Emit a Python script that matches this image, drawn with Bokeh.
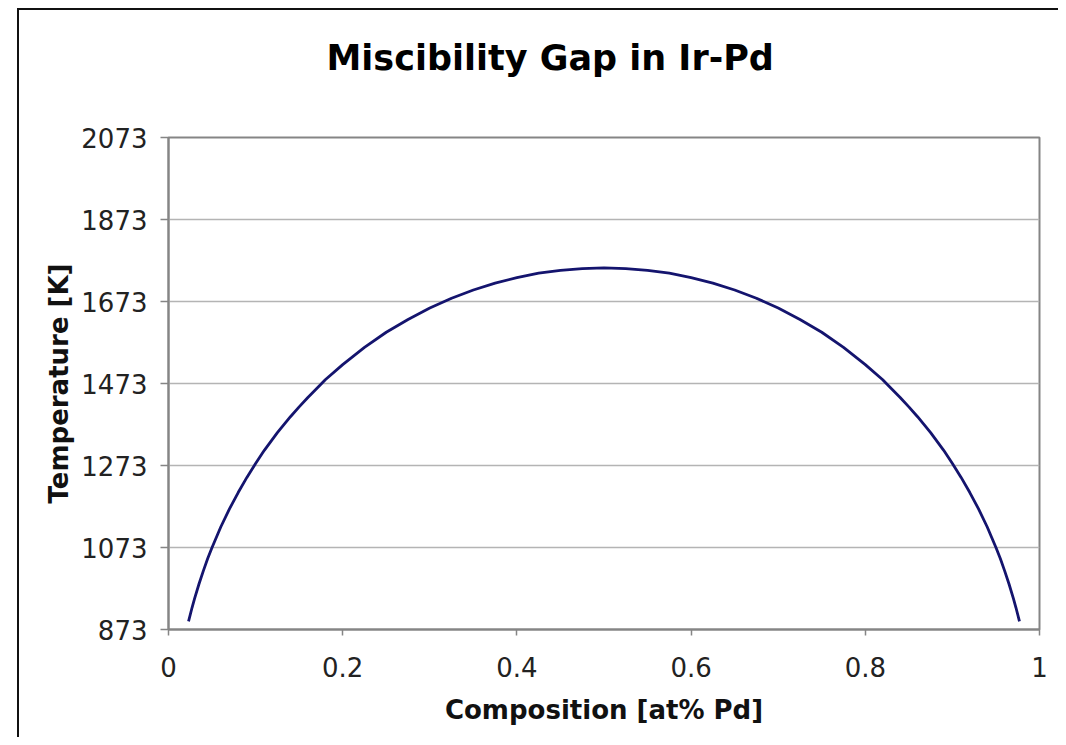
from bokeh.plotting import figure
from bokeh.models import FixedTicker, NumeralTickFormatter, Range1d, Title
from bokeh.embed import file_html
from bokeh.resources import INLINE

# Data (composition fraction Pd, temperature K)
composition = [0.023, 0.027, 0.03, 0.035, 0.04, 0.045, 0.05, 0.055, 0.06, 0.07,
               0.08, 0.09, 0.10, 0.11, 0.125, 0.14, 0.15, 0.16, 0.175, 0.18,
               0.20, 0.225, 0.25, 0.275, 0.30, 0.325, 0.35, 0.375, 0.40, 0.425,
               0.45, 0.475, 0.50,
               0.525, 0.55, 0.575, 0.60, 0.625, 0.65, 0.675, 0.70, 0.725,
               0.75, 0.775, 0.80, 0.82, 0.825, 0.84, 0.85, 0.86, 0.875, 0.89,
               0.90, 0.91, 0.92, 0.93, 0.94, 0.945, 0.95, 0.955, 0.96, 0.965,
               0.97, 0.973, 0.977]
temperature = [893, 926, 949, 984, 1016, 1046, 1073, 1098, 1123, 1167,
               1207, 1244, 1278, 1310, 1353, 1392, 1416, 1439, 1471, 1482,
               1519, 1561, 1598, 1629, 1657, 1681, 1701, 1718, 1731, 1742,
               1749, 1753, 1755,
               1753, 1749, 1742, 1731, 1718, 1701, 1681, 1657, 1629,
               1598, 1561, 1519, 1482, 1471, 1439, 1416, 1392, 1353, 1310,
               1278, 1244, 1207, 1167, 1123, 1098, 1073, 1046, 1016, 984,
               949, 926, 893]

x_ticks = [0, 0.2, 0.4, 0.6, 0.8, 1]
y_ticks = [873, 1073, 1273, 1473, 1673, 1873, 2073]
title_text = "Miscibility Gap in Ir-Pd"

FONT = "DejaVu Sans"

p = figure(
    output_backend="svg", toolbar_location=None,
    frame_width=871, frame_height=492,
    min_border_left=149, min_border_right=19,
    min_border_top=127, min_border_bottom=108,
    x_range=Range1d(0, 1), y_range=Range1d(873, 2073),
)
p.styles = {"margin-left": "17px", "margin-top": "8px",
            "border-left": "2px solid #111111",
            "border-top": "2px solid #111111"}

# empty spacer between frame and title, then the title itself
p.add_layout(Title(text=" ", text_font_size="30px", standoff=20), "above")
p.add_layout(Title(text=title_text, align="left", offset=158,
                   text_font=FONT, text_font_size="35px",
                   text_font_style="bold", text_color="#000000",
                   standoff=10), "above")

p.line(composition, temperature, line_color="#14146e", line_width=2.8)

p.xaxis.ticker = FixedTicker(ticks=x_ticks)
p.xaxis.formatter = NumeralTickFormatter(format="0.[0]")
p.yaxis.ticker = FixedTicker(ticks=y_ticks)

for ax in (p.xaxis[0], p.yaxis[0]):
    ax.axis_line_color = "#858585"
    ax.axis_line_width = 2
    ax.major_tick_line_color = "#858585"
    ax.major_tick_line_width = 1.5
    ax.major_tick_in = 0
    ax.minor_tick_line_color = None
    ax.major_label_text_font = FONT
    ax.major_label_text_font_size = "26px"
    ax.major_label_text_color = "#222222"
    ax.axis_label_text_font = FONT
    ax.axis_label_text_font_size = "26px"
    ax.axis_label_text_font_style = "bold"
    ax.axis_label_text_color = "#111111"

p.xaxis.axis_label = "Composition [at% Pd]"
p.yaxis.axis_label = "Temperature [K]"
p.xaxis.major_tick_out = 6
p.yaxis.major_tick_out = 8
p.xaxis.major_label_standoff = 21
p.yaxis.major_label_standoff = 13
p.xaxis.axis_label_standoff = 15
p.yaxis.axis_label_standoff = 4

p.xgrid.grid_line_color = None
p.ygrid.grid_line_color = "#b4b4b4"
p.ygrid.grid_line_width = 1.5

p.outline_line_color = "#858585"
p.outline_line_width = 2
p.background_fill_color = "#ffffff"
p.border_fill_color = "#ffffff"

open("out.html", "w").write(file_html(p, INLINE))
